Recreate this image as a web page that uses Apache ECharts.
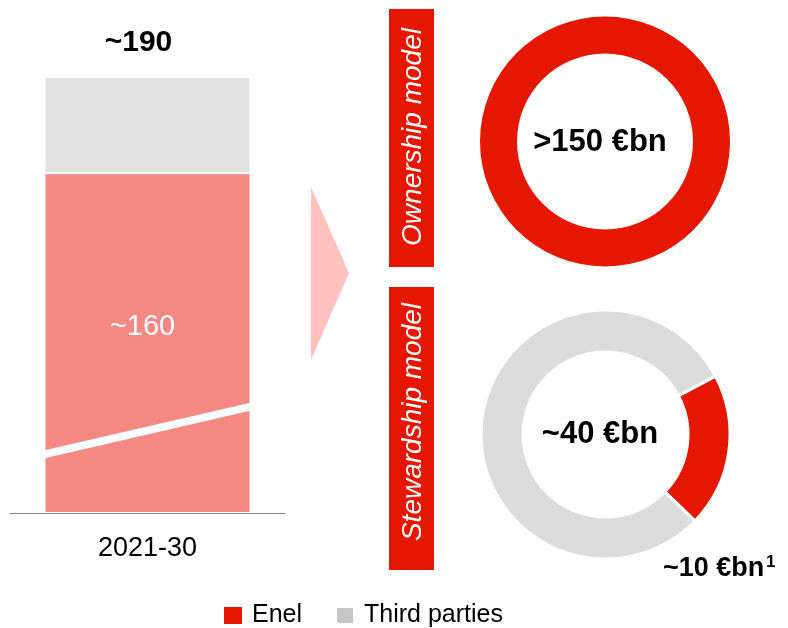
<!DOCTYPE html>
<html>
<head>
<meta charset="utf-8">
<script src="https://cdn.jsdelivr.net/npm/echarts@6/dist/echarts.min.js"></script>
<style>
  html, body { margin: 0; padding: 0; background: #ffffff; }
  #chart { width: 788px; height: 628px; }
</style>
</head>
<body>
<div id="chart"></div>
<script>
// Investment plan 2021-30 (€bn)
const periods = ['2021-30'];
const enelCapex = [160];
const thirdPartyCapex = [30];

// Business models
const modelNames = ['Ownership model', 'Stewardship model'];
const modelTotals = [150, 40];
const modelPrefixes = ['>', '~'];
const ownershipSplit = [150];          // Enel only
const stewardshipSplit = [10, 40];     // Enel, Third parties
const legendNames = ['Enel', 'Third parties'];

const FONT = '"Liberation Sans", Arial, sans-serif';
const RED = '#E61700';
const SALMON = '#F38982';
const BAR_GREY = '#E1E1E1';
const RING_GREY = '#DCDCDC';
const LEGEND_GREY = '#C6C6C6';

const chart = echarts.init(document.getElementById('chart'), null, { renderer: 'canvas' });

const option = {
  animation: false,
  backgroundColor: '#ffffff',
  grid: { left: 10, right: 503, top: 77, bottom: 115, containLabel: false },
  xAxis: {
    type: 'category',
    data: periods,
    axisLine: { show: true, lineStyle: { color: '#808080', width: 1 } },
    axisTick: { show: false },
    axisLabel: { color: '#000', fontSize: 27, fontFamily: FONT, margin: 22 }
  },
  yAxis: {
    type: 'value',
    min: 0,
    max: enelCapex[0] + thirdPartyCapex[0],
    show: false,
    splitLine: { show: false },
    breaks: [{ start: 26, end: 80, gap: 0 }],
    breakArea: {
      show: false,
      expandOnClick: false,
      itemStyle: { opacity: 0, borderWidth: 0 }
    }
  },
  legend: {
    left: 219,
    top: 598,
    icon: 'rect',
    itemWidth: 18,
    itemHeight: 17,
    itemGap: 33,
    selectedMode: false,
    textStyle: { fontSize: 25, color: '#000', fontFamily: FONT, padding: [0, 0, 0, 5] },
    data: [
      { name: legendNames[0], itemStyle: { color: RED } },
      { name: legendNames[1], itemStyle: { color: LEGEND_GREY } }
    ]
  },
  series: [
    {
      type: 'bar',
      name: 'Enel capex',
      stack: 'capex',
      barWidth: 206,
      data: enelCapex,
      itemStyle: { color: SALMON, borderColor: '#fff', borderWidth: 1 },
      label: {
        show: true,
        position: 'inside',
        offset: [-5, -16],
        color: '#fff',
        fontSize: 29,
        fontFamily: FONT,
        formatter: p => '~' + p.value
      }
    },
    {
      type: 'bar',
      name: 'Third-party capex',
      stack: 'capex',
      barWidth: 206,
      data: thirdPartyCapex,
      itemStyle: { color: BAR_GREY, borderColor: '#fff', borderWidth: 1 },
      label: {
        show: true,
        position: 'top',
        distance: 19,
        offset: [-9, 0],
        color: '#000',
        fontSize: 30,
        fontWeight: 'bold',
        fontFamily: FONT,
        formatter: p => '~' + (enelCapex[p.dataIndex] + thirdPartyCapex[p.dataIndex])
      }
    },
    {
      type: 'pie',
      name: modelNames[0],
      center: [605, 141.5],
      radius: [88, 125],
      startAngle: 90,
      silent: true,
      label: { show: false },
      labelLine: { show: false },
      data: [{ name: legendNames[0], value: ownershipSplit[0], itemStyle: { color: RED } }]
    },
    {
      type: 'pie',
      name: modelNames[1],
      center: [605.5, 434.5],
      radius: [82.5, 124.5],
      startAngle: 28,
      silent: true,
      label: { show: false },
      labelLine: { show: false },
      itemStyle: { borderColor: '#fff', borderWidth: 3 },
      data: [
        { name: legendNames[0], value: stewardshipSplit[0], itemStyle: { color: RED } },
        { name: legendNames[1], value: stewardshipSplit[1], itemStyle: { color: RING_GREY } }
      ]
    }
  ]
};

chart.setOption(option);

// Slanted white cut across the bar where the value axis is broken
const halfBar = 206 / 2 + 2;
const barCenter = chart.convertToPixel({ gridIndex: 0 }, [periods[0], 0]);
const breakPx = chart.convertToPixel({ gridIndex: 0 }, [periods[0], 26]);
const xL = barCenter[0] - halfBar, xR = barCenter[0] + halfBar;
const yMid = breakPx[1];
const cut = [
  [xL, yMid + 21], [xR, yMid - 27.5], [xR, yMid - 19.5], [xL, yMid + 29]
];

const textBase = { fontFamily: FONT };

chart.setOption({
  graphic: [
    { type: 'polygon', z: 100, shape: { points: cut }, style: { fill: '#fff' } },
    // arrow towards the two models
    { type: 'polygon', shape: { points: [[311, 187], [349, 273], [311, 360]] }, style: { fill: '#FFC2BE' } },
    // model boxes
    { type: 'rect', shape: { x: 389, y: 9, width: 45, height: 258 }, style: { fill: RED } },
    { type: 'rect', shape: { x: 389, y: 287, width: 45, height: 283 }, style: { fill: RED } },
    {
      type: 'text', x: 413, y: 137, rotation: Math.PI / 2,
      style: Object.assign({ text: modelNames[0], fill: '#fff', fontSize: 28, fontStyle: 'italic',
        align: 'center', verticalAlign: 'middle' }, textBase)
    },
    {
      type: 'text', x: 413, y: 422, rotation: Math.PI / 2,
      style: Object.assign({ text: modelNames[1], fill: '#fff', fontSize: 28, fontStyle: 'italic',
        align: 'center', verticalAlign: 'middle' }, textBase)
    },
    // donut totals
    {
      type: 'text', x: 600, y: 142.5, z: 50,
      style: Object.assign({ text: modelPrefixes[0] + modelTotals[0] + ' €bn', fill: '#000', fontSize: 31,
        fontWeight: 'bold', align: 'center', verticalAlign: 'middle' }, textBase)
    },
    {
      type: 'text', x: 600, y: 434.5, z: 50,
      style: Object.assign({ text: modelPrefixes[1] + modelTotals[1] + ' €bn', fill: '#000', fontSize: 31,
        fontWeight: 'bold', align: 'center', verticalAlign: 'middle' }, textBase)
    },
    // Enel share of the stewardship model, with footnote marker
    {
      type: 'text', x: 663, y: 569, z: 50,
      style: Object.assign({ text: '~' + stewardshipSplit[0] + ' €bn', fill: '#000', fontSize: 27,
        fontWeight: 'bold', align: 'left', verticalAlign: 'middle' }, textBase)
    },
    {
      type: 'text', x: 766, y: 562, z: 50,
      style: Object.assign({ text: '1', fill: '#000', fontSize: 17,
        fontWeight: 'bold', align: 'left', verticalAlign: 'middle' }, textBase)
    }
  ]
});
</script>
</body>
</html>
